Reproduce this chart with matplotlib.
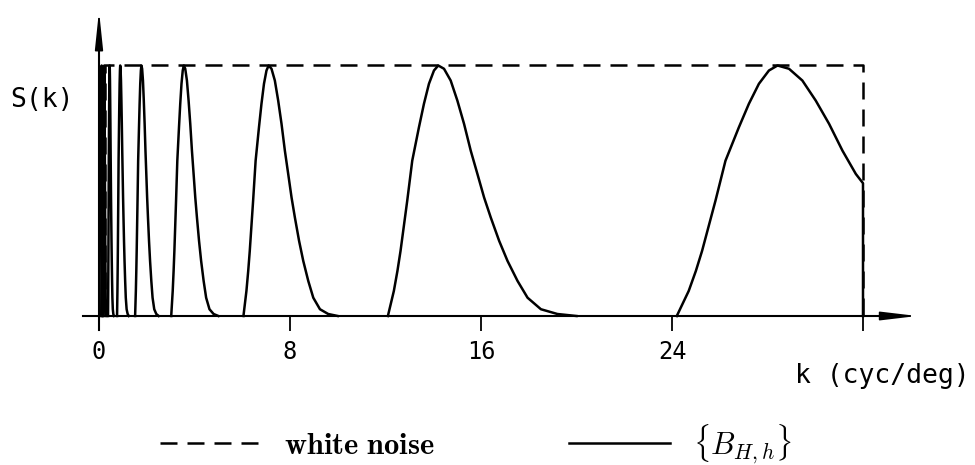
import matplotlib
matplotlib.use("Agg")
import matplotlib.pyplot as plt

# band shape (k, S) -- the other bands are octave copies
band_k = [12.10, 12.35, 12.50, 12.63, 12.77, 12.91, 13.12, 13.40, 13.61, 13.82, 14.03, 14.21,
          14.45, 14.73, 15.01, 15.29, 15.57, 15.85, 16.13, 16.41, 16.76, 17.11,
          17.53, 17.95, 18.51, 19.20, 20.00]
band_s = [0.0, 0.10, 0.18, 0.26, 0.36, 0.46, 0.62, 0.753, 0.847, 0.927, 0.98, 1.0,
          0.987, 0.94, 0.86, 0.767, 0.66, 0.567, 0.473, 0.393, 0.30, 0.22,
          0.14, 0.073, 0.027, 0.008, 0.0]
ref_start = 12.0
band_starts = [0.09375, 0.1875, 0.375, 0.75, 1.5, 3, 6, 12, 24]

# white noise level and cut-off
noise_k = [0.25, 0.25, 32, 32]
noise_s = [0, 1, 1, 0]
k_cut = 32
s_at_cut = 0.53

xticks = [0, 8, 16, 24, 32]
xticklabels = ['0', '8', '16', '24', '']

plt.rcParams['mathtext.fontset'] = 'cm'

W, H = 975, 465
fig = plt.figure(figsize=(W / 100, H / 100), dpi=100)
ax = fig.add_axes([0, 0, 1, 1])

# pixel mapping: k=0 at x=99, k=32 at x=863 ; S=0 at y=316, S=1 at y=65.5
pxk = (863 - 99) / 32
pxs = 316 - 65.5
ax.set_xlim(-99 / pxk, (W - 99) / pxk)
ax.set_ylim(-(H - 316) / pxs, 316 / pxs)

lw = 1.8
dash = (0, (6.8, 4.0))

ax.plot(noise_k, noise_s, color='black', lw=lw, linestyle=dash, label='$\\mathbf{white\\ noise}$')

first = True
for st in band_starts:
    f = st / ref_start
    ks = [k * f for k in band_k]
    ss = list(band_s)
    if ks[-1] > k_cut:
        keep = [i for i, k in enumerate(ks) if k < k_cut]
        ks = [ks[i] for i in keep] + [k_cut, k_cut]
        ss = [ss[i] for i in keep] + [s_at_cut, 0]
    ax.plot(ks, ss, color='black', lw=lw, solid_joinstyle='round',
            label='$\\{B_{H,h}\\}$' if first else None)
    first = False

# axes through the origin with arrow heads
for side in ['top', 'right']:
    ax.spines[side].set_visible(False)
ax.spines['bottom'].set_position(('data', 0))
ax.spines['left'].set_position(('data', 0))
ax.spines['bottom'].set_bounds(-0.67, 33.5)
ax.spines['left'].set_bounds(-0.056, 1.15)
ax.spines['bottom'].set_linewidth(1.5)
ax.spines['left'].set_linewidth(1.5)

ax.annotate('', xy=(34.39, 0), xytext=(33.0, 0),
            arrowprops=dict(arrowstyle='-|>,head_length=1.1,head_width=0.13',
                            mutation_scale=20, color='black', lw=1.2))
ax.annotate('', xy=(0, 1.23), xytext=(0, 1.1),
            arrowprops=dict(arrowstyle='-|>,head_length=1.15,head_width=0.12',
                            mutation_scale=20, color='black', lw=1.2))

ax.set_xticks(xticks)
ax.set_xticklabels(xticklabels)
ax.set_yticks([])
ax.tick_params(axis='x', direction='out', length=11, width=1.3, pad=6,
               labelsize=17)
for t in ax.get_xticklabels():
    t.set_family('DejaVu Sans Mono')

ax.text(-2.39, 0.862, 'S(k)', fontsize=19, family='DejaVu Sans Mono',
        ha='center', va='center')
ax.text(36.45, -0.24, 'k (cyc/deg)', fontsize=19, family='DejaVu Sans Mono',
        ha='right', va='center')

fig.legend(loc='center left', bbox_to_anchor=(160 / W, 21 / H), ncol=2,
           frameon=False, fontsize=22, handlelength=3.3, handletextpad=0.75,
           columnspacing=4.4, borderpad=0, borderaxespad=0)

fig.savefig('out.png', dpi=100)
